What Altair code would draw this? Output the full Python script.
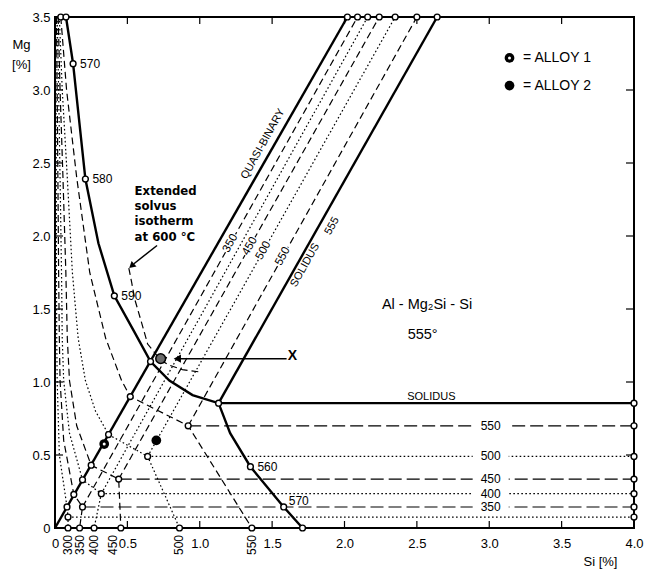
import altair as alt
import pandas as pd

W, H = 579, 511
FONT = "Liberation Sans, Arial, Helvetica, sans-serif"
NARROW = "Liberation Sans Narrow, DejaVu Sans Condensed, Liberation Sans, Arial"

# ---------------- data ----------------
temps = [300, 350, 400, 450, 500, 550]
line_style = ["dot", "dash", "dot", "dash", "dot", "dash"]
# corner of the Al + Mg2Si + Si field for each isotherm
corner_si = [0.09, 0.19, 0.32, 0.44, 0.64, 0.92]
corner_mg = [0.075, 0.144, 0.235, 0.335, 0.49, 0.70]
# intersection of each isotherm with the quasi-binary
qb_si = [0.083, 0.13, 0.19, 0.25, 0.37, 0.52]
qb_mg = [0.144, 0.23, 0.33, 0.43, 0.64, 0.90]
# Si solubility at Mg = 0
bottom_si = [0.09, 0.17, 0.27, 0.455, 0.86, 1.36]
# tie-line ends at Mg = 3.5
top_si = [None, 2.09, 2.16, 2.24, 2.35, 2.50]
# solvus branches on the Mg side
upper_mg = [3.5, 3.0, 2.4, 1.75, 1.3, 1.01]
upper_si = [
    [0.005, 0.007, 0.009, 0.010, 0.012, 0.015],
    [0.010, 0.015, 0.020, 0.025, 0.030, 0.035],
    [0.015, 0.025, 0.035, 0.045, 0.050, 0.060],
    [0.022, 0.035, 0.055, 0.075, 0.085, 0.100],
    [0.030, 0.050, 0.085, 0.120, 0.160, 0.210],
    [0.040, 0.080, 0.150, 0.240, 0.350, 0.460],
]
mid_si = [[0.03], [0.06], [0.10], [0.15], [0.28], []]
mid_mg = [[0.50], [0.60], [0.65], [0.70], [0.80], []]

# quasi-binary and solidus (555 °C)
qbline_si = [0.0, 2.02]
qbline_mg = [0.0, 3.5]
sol_diag_si = [1.13, 2.64]
sol_diag_mg = [0.855, 3.5]
sol_hor_si = [1.13, 4.0]
sol_hor_mg = [0.855, 0.855]
thick_si = [0.076, 0.125, 0.21, 0.30, 0.41, 0.55, 0.66, 0.79, 0.95, 1.13, 1.21, 1.35, 1.58, 1.71]
thick_mg = [3.5, 3.18, 2.39, 1.95, 1.59, 1.34, 1.14, 1.01, 0.91, 0.855, 0.65, 0.42, 0.144, 0.0]
# extended solvus isotherm at 600 °C
ext_si = [0.51, 0.53, 0.55, 0.60, 0.64, 0.73, 0.79, 0.88, 0.99]
ext_mg = [1.78, 1.68, 1.57, 1.40, 1.26, 1.15, 1.115, 1.085, 1.07]

# temperature marks on the thick curves
thick_lab_si = [0.125, 0.21, 0.41, 1.35, 1.58]
thick_lab_mg = [3.18, 2.39, 1.59, 0.42, 0.144]
thick_lab = ["570", "580", "590", "560", "570"]

# alloys
alloy1_si, alloy1_mg = 0.34, 0.575
alloy2_si, alloy2_mg = 0.70, 0.60
alloyx_si, alloyx_mg = 0.73, 1.16

# tick values
xticks = [0.5, 1.0, 1.5, 2.0, 2.5, 3.0, 3.5]
yticks = [0.5, 1.0, 1.5, 2.0, 2.5, 3.0]
xlabels = [0, 0.5, 1.0, 1.5, 2.0, 2.5, 3.0, 3.5, 4.0]
ylabels = [0, 0.5, 1.0, 1.5, 2.0, 2.5, 3.0, 3.5]

# ---------------- build tables ----------------
rows = []


def add(seg, style, si, mg):
    for i, (s, m) in enumerate(zip(si, mg)):
        rows.append(dict(seg=seg, style=style, o=i, si=s, mg=m))


for i, T in enumerate(temps):
    st = line_style[i]
    add(f"solvus{T}", st,
        upper_si[i] + mid_si[i] + [qb_si[i], corner_si[i], bottom_si[i]],
        upper_mg + mid_mg[i] + [qb_mg[i], corner_mg[i], 0.0])
    if top_si[i] is not None:
        add(f"diag{T}", st, [corner_si[i], top_si[i]], [corner_mg[i], 3.5])
    add(f"hor{T}", "h" + st, [corner_si[i], 4.0], [corner_mg[i], corner_mg[i]])
add("qb", "thick", qbline_si, qbline_mg)
add("soldiag", "thick", sol_diag_si, sol_diag_mg)
add("solhor", "thick", sol_hor_si, sol_hor_mg)
add("thickcurve", "thick", thick_si, thick_mg)
add("ext600", "dash", ext_si, ext_mg)
lines = pd.DataFrame(rows)

# open circles
c_si, c_mg = [], []
c_si += bottom_si + [1.71]; c_mg += [0.0] * 7
c_si += qb_si + [0.66]; c_mg += qb_mg + [1.14]
c_si += corner_si + [1.13]; c_mg += corner_mg + [0.855]
c_si += [4.0] * 7; c_mg += corner_mg + [0.855]
c_si += [2.02] + top_si[1:] + [2.64, 0.04, 0.076]; c_mg += [3.5] * 9
c_si += thick_lab_si; c_mg += thick_lab_mg
circles = pd.DataFrame(dict(si=c_si, mg=c_mg))

xs = alt.Scale(domain=[0, 4], nice=False, zero=False)
ys = alt.Scale(domain=[0, 3.5], nice=False, zero=False)

xaxis = alt.Axis(values=xlabels, labelExpr="datum.value == 0 ? '0' : format(datum.value, '.1f')",
                 ticks=False, tickSize=0, domain=False, grid=False, labelPadding=9,
                 labelFont=FONT, labelFontSize=13, labelColor="black", labelFlush=False,
                 labelOverlap=False,
                 title="Si [%]", titleFont=FONT, titleFontSize=13, titleFontWeight="normal",
                 titleColor="black",
                 titleX=562, titleY=37, titleAlign="right", titleBaseline="alphabetic")
yaxis = alt.Axis(values=ylabels, labelExpr="datum.value == 0 ? '0' : format(datum.value, '.1f')",
                 ticks=False, tickSize=0, domain=False, grid=False, labelPadding=5,
                 labelFont=FONT, labelFontSize=13, labelColor="black", labelFlush=False,
                 labelOverlap=False,
                 title=["Mg", "[%]"], titleFont=FONT, titleFontSize=13, titleFontWeight="normal",
                 titleColor="black",
                 titleAngle=0, titleX=-34, titleY=21, titleAlign="center", titleBaseline="top",
                 titleLineHeight=20)

X = alt.X("si:Q", scale=xs, axis=xaxis)
Y = alt.Y("mg:Q", scale=ys, axis=yaxis)

base = alt.Chart(lines)


def line_layer(style, **kw):
    return base.transform_filter(alt.datum.style == style).mark_line(color="black", **kw).encode(
        x=X, y=Y, detail="seg:N", order="o:Q")


thick = line_layer("thick", strokeWidth=2.4)
dash = line_layer("dash", strokeWidth=1.2, strokeDash=[7, 4])
dot = line_layer("dot", strokeWidth=1.2, strokeDash=[1.6, 2.4])
hdash = line_layer("hdash", strokeWidth=1.2, strokeDash=[13, 5])
hdot = line_layer("hdot", strokeWidth=1.2, strokeDash=[1.6, 2.4])

# ticks (inward)
tick_x = pd.DataFrame(dict(si=xticks))
tick_y = pd.DataFrame(dict(mg=yticks))
ticks_bottom = alt.Chart(tick_x).mark_rule(color="black", strokeWidth=1.2).encode(
    x=X, y=alt.value(H), y2=alt.value(H - 7))
ticks_top = alt.Chart(tick_x).mark_rule(color="black", strokeWidth=1.2).encode(
    x=X, y=alt.value(0), y2=alt.value(7))
ticks_left = alt.Chart(tick_y).mark_rule(color="black", strokeWidth=1.2).encode(
    y=Y, x=alt.value(0), x2=alt.value(8))
ticks_right = alt.Chart(tick_y).mark_rule(color="black", strokeWidth=1.2).encode(
    y=Y, x=alt.value(W), x2=alt.value(W - 8))

# label masks and labels on the horizontal isotherms
hl = pd.DataFrame(dict(si=[3.01] * 5, mg=corner_mg[1:], t=[str(t) for t in temps[1:]]))
hmask = alt.Chart(hl).mark_point(shape="M-1,-0.22H1V0.22H-1Z", filled=True, fill="white",
                                 strokeWidth=0, opacity=1, size=1300).encode(x=X, y=Y)
htext = alt.Chart(hl).mark_text(font=FONT, fontSize=12, color="black").encode(x=X, y=Y, text="t:N")

# labels on the diagonal tie lines
diag_lab_T = [350, 450, 500, 550]
diag_lab_mg = [1.95, 1.93, 1.90, 1.86]
d_si = []
for T, m in zip(diag_lab_T, diag_lab_mg):
    k = temps.index(T)
    d_si.append(corner_si[k] + (m - corner_mg[k]) * (top_si[k] - corner_si[k]) / (3.5 - corner_mg[k]))
dl = pd.DataFrame(dict(si=d_si, mg=diag_lab_mg, t=[str(t) for t in diag_lab_T]))
dmask = alt.Chart(dl).mark_point(shape="M-1,-0.45H1V0.45H-1Z", filled=True, fill="white",
                                 strokeWidth=0, opacity=1, size=420, angle=299).encode(x=X, y=Y)
dtext = alt.Chart(dl).mark_text(font=FONT, fontSize=11.5, angle=299, color="black").encode(
    x=X, y=Y, text="t:N")

# open circles
circ = alt.Chart(circles).mark_point(shape="circle", filled=True, fill="white", stroke="black",
                                     strokeWidth=1.4, size=34, opacity=1).encode(x=X, y=Y)

# labels on thick curves
tl = pd.DataFrame(dict(si=thick_lab_si, mg=thick_lab_mg, t=thick_lab))
tl_top = alt.Chart(tl.iloc[:4]).mark_text(font=FONT, fontSize=12, align="left", dx=7,
                                          color="black").encode(x=X, y=Y, text="t:N")
tl_low = alt.Chart(tl.iloc[4:]).mark_text(font=FONT, fontSize=12, align="left", dx=5, dy=-6,
                                          color="black").encode(x=X, y=Y, text="t:N")

# bottom rotated temperature labels (the 450 one is nudged left of the 0.5 label;
# offsets act in the rotated frame, so dy<0 moves it left on screen)
bl = pd.DataFrame(dict(si=bottom_si, t=[str(t) for t in temps]))
btext = alt.Chart(bl[bl.t != "450"]).mark_text(
    font=FONT, fontSize=12, angle=270, align="right", baseline="middle",
    color="black").encode(x=X, y=alt.value(H + 7), text="t:N")
btext450 = alt.Chart(bl[bl.t == "450"]).mark_text(
    font=FONT, fontSize=12, angle=270, align="right", baseline="middle", dy=-8,
    color="black").encode(x=X, y=alt.value(H + 7), text="t:N")

# alloys
al = pd.DataFrame(dict(si=[alloy1_si, alloy2_si, 3.14, 3.14], mg=[alloy1_mg, alloy2_mg, 3.22, 3.03],
                       k=["a1", "a2", "a1", "a2"]))
alloy_black = alt.Chart(al).mark_point(shape="circle", filled=True, color="black", size=95,
                                       opacity=1).encode(x=X, y=Y)
alloy_dot = alt.Chart(al[al.k == "a1"]).mark_point(shape="circle", filled=True, color="white",
                                                    size=9, opacity=1).encode(x=X, y=Y)
axd = pd.DataFrame(dict(si=[alloyx_si], mg=[alloyx_mg]))
alloy_x = alt.Chart(axd).mark_point(shape="circle", filled=True, fill="#6a6a6a", stroke="black",
                                    strokeWidth=1.5, size=95, opacity=1).encode(x=X, y=Y)

# legend text
lg = pd.DataFrame(dict(si=[3.234, 3.234], mg=[3.22, 3.03], t=["= ALLOY 1", "= ALLOY 2"]))
lgtext = alt.Chart(lg).mark_text(font=FONT, fontSize=14, align="left", color="black").encode(
    x=X, y=Y, text="t:N")

# X arrow
xa = pd.DataFrame(dict(si=[0.84, 1.60], mg=[1.16, 1.16], o=[0, 1]))
xarrow = alt.Chart(xa).mark_line(color="black", strokeWidth=1.5).encode(x=X, y=Y, order="o:Q")
xhead = alt.Chart(pd.DataFrame(dict(si=[0.845], mg=[1.16]))).mark_point(
    shape="triangle-left", filled=True, color="black", size=70, opacity=1).encode(x=X, y=Y)
xlab = alt.Chart(pd.DataFrame(dict(si=[1.64], mg=[1.175], t=["X"]))).mark_text(
    font=FONT, fontSize=14, fontWeight="bold", align="center", color="black").encode(x=X, y=Y, text="t:N")

# 600 °C annotation
ea = pd.DataFrame(dict(si=[0.705, 0.545], mg=[1.935, 1.81], o=[0, 1]))
earrow = alt.Chart(ea).mark_line(color="black", strokeWidth=1.5).encode(x=X, y=Y, order="o:Q")
ehead = alt.Chart(pd.DataFrame(dict(si=[0.535], mg=[1.80]))).mark_point(
    shape="triangle", filled=True, color="black", size=55, angle=229, opacity=1).encode(x=X, y=Y)
et = pd.DataFrame(dict(si=[0.55] * 4, mg=[2.308, 2.205, 2.10, 1.995],
                       t=["Extended", "solvus", "isotherm", "at 600 °C"]))
etext = alt.Chart(et).mark_text(font=NARROW, fontSize=13, fontWeight="bold", align="left",
                                color="black").encode(x=X, y=Y, text="t:N")

# other annotations
an = pd.DataFrame(dict(si=[2.57, 2.54], mg=[1.53, 1.32], t=["Al - Mg₂Si - Si", "555°"]))
antext = alt.Chart(an).mark_text(font=FONT, fontSize=14.5, color="black").encode(x=X, y=Y, text="t:N")
sh = alt.Chart(pd.DataFrame(dict(si=[2.60], mg=[0.90], t=["SOLIDUS"]))).mark_text(
    font=FONT, fontSize=11, color="black").encode(x=X, y=Y, text="t:N")
rot = pd.DataFrame(dict(si=[1.437, 1.728, 1.914], mg=[2.63, 1.80, 2.068],
                        t=["QUASI-BINARY", "SOLIDUS", "555"]))
rottext = alt.Chart(rot).mark_text(font=FONT, fontSize=11, angle=299, color="black").encode(
    x=X, y=Y, text="t:N")

chart = alt.layer(
    thick, dash, dot, hdash, hdot,
    ticks_bottom, ticks_top, ticks_left, ticks_right,
    hmask, htext, dmask, dtext,
    xarrow, xhead, xlab, earrow, ehead,
    circ, alloy_black, alloy_dot, alloy_x,
    tl_top, tl_low, btext, btext450, lgtext, etext, antext, sh, rottext,
).properties(
    width=W, height=H,
    autosize=alt.AutoSizeParams(type="none"),
    padding={"left": 55, "top": 17, "right": 11, "bottom": 41},
).configure_view(stroke="black", strokeWidth=2)

chart.save("out.html", embed_options={"renderer": "svg", "actions": False})
